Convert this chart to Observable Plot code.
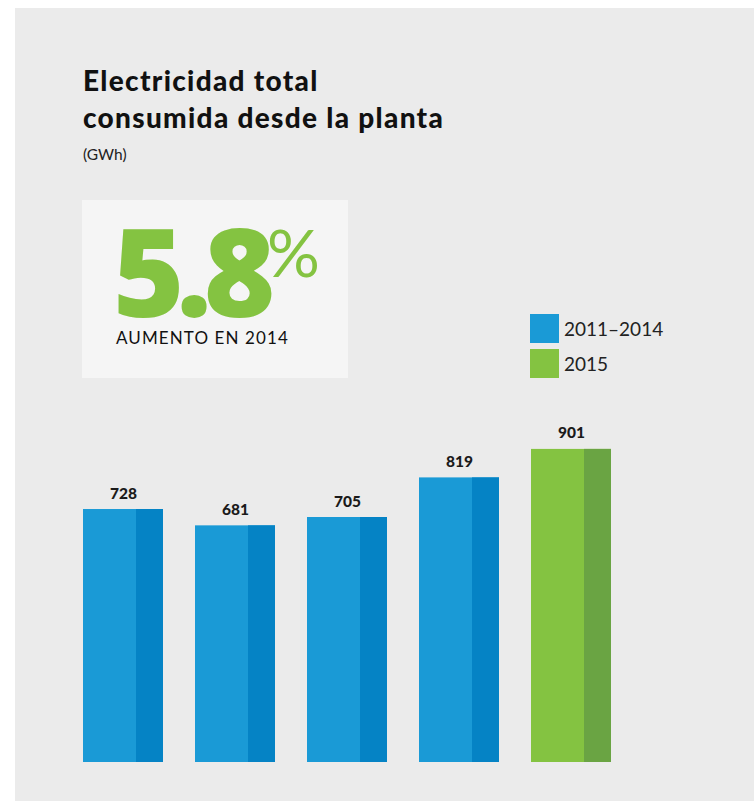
<!DOCTYPE html>
<html>
<head>
<meta charset="utf-8">
<script src="https://cdn.jsdelivr.net/npm/d3@7"></script>
<script src="https://cdn.jsdelivr.net/npm/@observablehq/plot@0.6"></script>
<style>
  html, body { margin: 0; padding: 0; background: #ffffff; width: 754px; height: 804px; overflow: hidden; }
  #panel { position: absolute; left: 15px; top: 8px; width: 739px; height: 793px; background: #ebebeb; }
  .title { position: absolute; left: 83px; top: 62px; font-family: Lato, sans-serif; font-weight: 900; font-size: 28px; line-height: 37px; color: #111; letter-spacing: 1.3px; }
  .sub { position: absolute; left: 83px; top: 145px; font-family: Lato, sans-serif; font-size: 15.5px; color: #222; }
  #box { position: absolute; left: 82px; top: 200px; width: 266px; height: 178px; background: #f5f5f5; }
  .big { position: absolute; left: 113px; top: 214px; font-family: "Open Sans", sans-serif; font-weight: 800; font-size: 122px; line-height: 112px; color: #84c341; letter-spacing: -8px; }
  .pct { position: absolute; left: 267px; top: 212px; font-family: Lato, sans-serif; font-weight: 400; font-size: 66px; line-height: 80px; color: #84c341; }
  .kpi { position: absolute; left: 116px; top: 328px; font-family: Lato, sans-serif; font-size: 17px; line-height: 20px; color: #111; letter-spacing: 1.1px; }
  .leg { position: absolute; left: 530px; font-family: Lato, sans-serif; font-size: 19px; color: #222; display: flex; align-items: center; }
  .leg span.sw { display: inline-block; width: 29px; height: 29px; margin-right: 5px; }
  #chart { position: absolute; left: 0; top: 400px; }
</style>
</head>
<body>
<div id="panel"></div>
<div class="title">Electricidad total<br>consumida desde la planta</div>
<div class="sub">(GWh)</div>
<div id="box"></div>
<div class="big">5.8</div>
<div class="pct">%</div>
<div class="kpi">AUMENTO EN 2014</div>
<div id="legend"></div>
<div id="chart"></div>
<script>
const years = ["2011", "2012", "2013", "2014", "2015"];
const values = [728, 681, 705, 819, 901];
const groups = ["2011–2014", "2011–2014", "2011–2014", "2011–2014", "2015"];
const legendLabels = ["2011–2014", "2015"];
const lightColors = ["#1a9ad6", "#84c341"];
const darkColors = ["#0583c5", "#6aa443"];

const data = years.map((y, i) => ({year: y, value: values[i], group: groups[i]}));

// legend
const legend = document.getElementById("legend");
legendLabels.forEach((l, i) => {
  const d = document.createElement("div");
  d.className = "leg";
  d.style.top = (314 + i * 35) + "px";
  d.innerHTML = `<span class="sw" style="background:${lightColors[i]}"></span>${l}`;
  legend.appendChild(d);
});

const light = d => lightColors[legendLabels.indexOf(d.group)];
const dark = d => darkColors[legendLabels.indexOf(d.group)];

const chart = Plot.plot({
  width: 754,
  height: 400,
  marginLeft: 83,
  marginRight: 143,
  marginTop: 14.5,
  marginBottom: 38,
  style: {background: "transparent", overflow: "visible"},
  x: {domain: years, paddingInner: 0.2857, paddingOuter: 0, round: false, axis: null},
  y: {domain: [0, 1000], axis: null},
  marks: [
    Plot.barY(data, {x: "year", y: "value", fill: light}),
    Plot.barY(data, {x: "year", y: "value", fill: dark, insetLeft: 53}),
    Plot.text(data, {x: "year", y: "value", text: d => String(d.value), lineAnchor: "bottom", dy: -11,
      fontFamily: "Lato, sans-serif", fontWeight: 900, fontSize: 15.5, fill: "#1a1a1a"})
  ]
});
document.getElementById("chart").appendChild(chart);
</script>
</body>
</html>
